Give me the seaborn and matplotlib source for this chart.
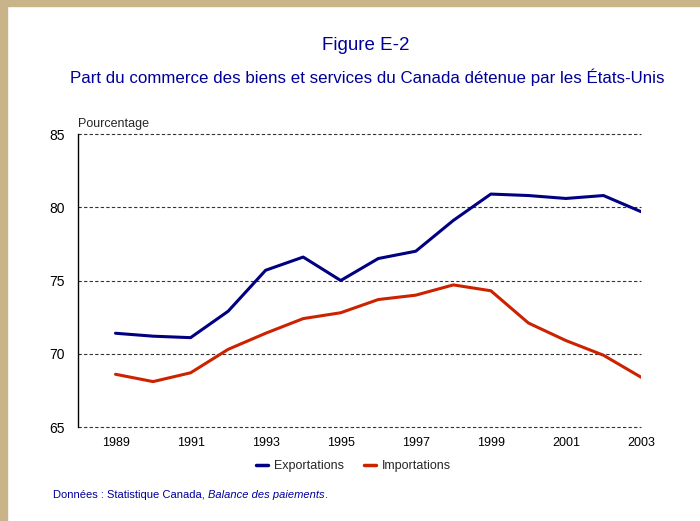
import matplotlib
matplotlib.use("Agg")
import matplotlib.pyplot as plt
from matplotlib.patches import Rectangle
from matplotlib.lines import Line2D
import pandas as pd
import seaborn as sns

# données
annees = list(range(1989, 2004))
exportations = [71.4, 71.2, 71.1, 72.9, 75.7, 76.6, 75.0, 76.5, 77.0, 79.1, 80.9, 80.8, 80.6, 80.8, 79.7]
importations = [68.6, 68.1, 68.7, 70.3, 71.4, 72.4, 72.8, 73.7, 74.0, 74.7, 74.3, 72.1, 70.9, 69.9, 68.4]
series = ["Exportations", "Importations"]
couleurs = ["#000080", "#CC2200"]
ticks_x = [1989, 1991, 1993, 1995, 1997, 1999, 2001, 2003]

df = pd.DataFrame({
    "annee": annees * 2,
    "valeur": exportations + importations,
    "serie": [series[0]] * len(annees) + [series[1]] * len(annees),
})

sns.set_style("white")
plt.rcParams['font.family'] = ['Liberation Sans', 'DejaVu Sans']

fig = plt.figure(figsize=(7, 5.21), dpi=100)
fig.patch.set_facecolor("white")
# bordure beige
fig.patches.append(Rectangle((0, 0), 0.01, 1, transform=fig.transFigure, color="#C9B48A", zorder=0))
fig.patches.append(Rectangle((0, 0.988), 1, 0.012, transform=fig.transFigure, color="#C9B48A", zorder=0))

ax = fig.add_axes([0.1114, 0.1804, 0.8043, 0.5624])
sns.lineplot(data=df, x="annee", y="valeur", hue="serie", palette=couleurs,
             linewidth=2.2, legend=False, ax=ax)

ax.set_xlim(1988, 2003)
ax.set_ylim(65, 85)
ax.set_yticks([65, 70, 75, 80, 85])
ax.set_xticks(ticks_x)
ax.tick_params(axis="both", length=0, labelsize=9, colors="black")
ax.tick_params(axis="y", pad=9.5, labelsize=10)
ax.tick_params(axis="x", pad=7)
ax.set_xlabel("")
ax.set_ylabel("")
ax.yaxis.grid(True, linestyle=(0, (3, 2)), color="#333333", linewidth=0.8)
for line in ax.get_ygridlines():
    line.set_clip_on(False)
for s in ["top", "right", "bottom"]:
    ax.spines[s].set_visible(False)
ax.spines["left"].set_color("black")
ax.spines["left"].set_linewidth(1.0)

ax.text(0.0, 1.015, "Pourcentage", transform=ax.transAxes, fontsize=9, ha="left", va="bottom")

fig.text(0.522, 0.913, "Figure E-2", ha="center", va="center", fontsize=13.5, color="#000099")
fig.text(0.524, 0.852, "Part du commerce des biens et services du Canada détenue par les États-Unis",
         ha="center", va="center", fontsize=12.2, color="#000099")

handles = [Line2D([0], [0], color=c, lw=2.5) for c in couleurs]
fig.legend(handles, series, loc="center", bbox_to_anchor=(0.505, 0.105), ncol=2, frameon=False,
           fontsize=9, handlelength=1.0, handletextpad=0.45, columnspacing=1.6)

y_src = 0.044
t1 = fig.text(0.076, y_src, "Données : Statistique Canada, ", fontsize=8, color="#000099",
              ha="left", va="baseline")
t2 = fig.text(0, y_src, "Balance des paiements", fontsize=8, color="#000099", style="italic",
              ha="left", va="baseline")
fig.canvas.draw()
r = fig.canvas.get_renderer()
bb = t1.get_window_extent(r)
t2.set_position((bb.x1 / fig.bbox.width, y_src))
bb2 = t2.get_window_extent(r)
fig.text(bb2.x1 / fig.bbox.width, y_src, ".", fontsize=8, color="#000099", ha="left", va="baseline")

fig.savefig("out.png", dpi=100)
